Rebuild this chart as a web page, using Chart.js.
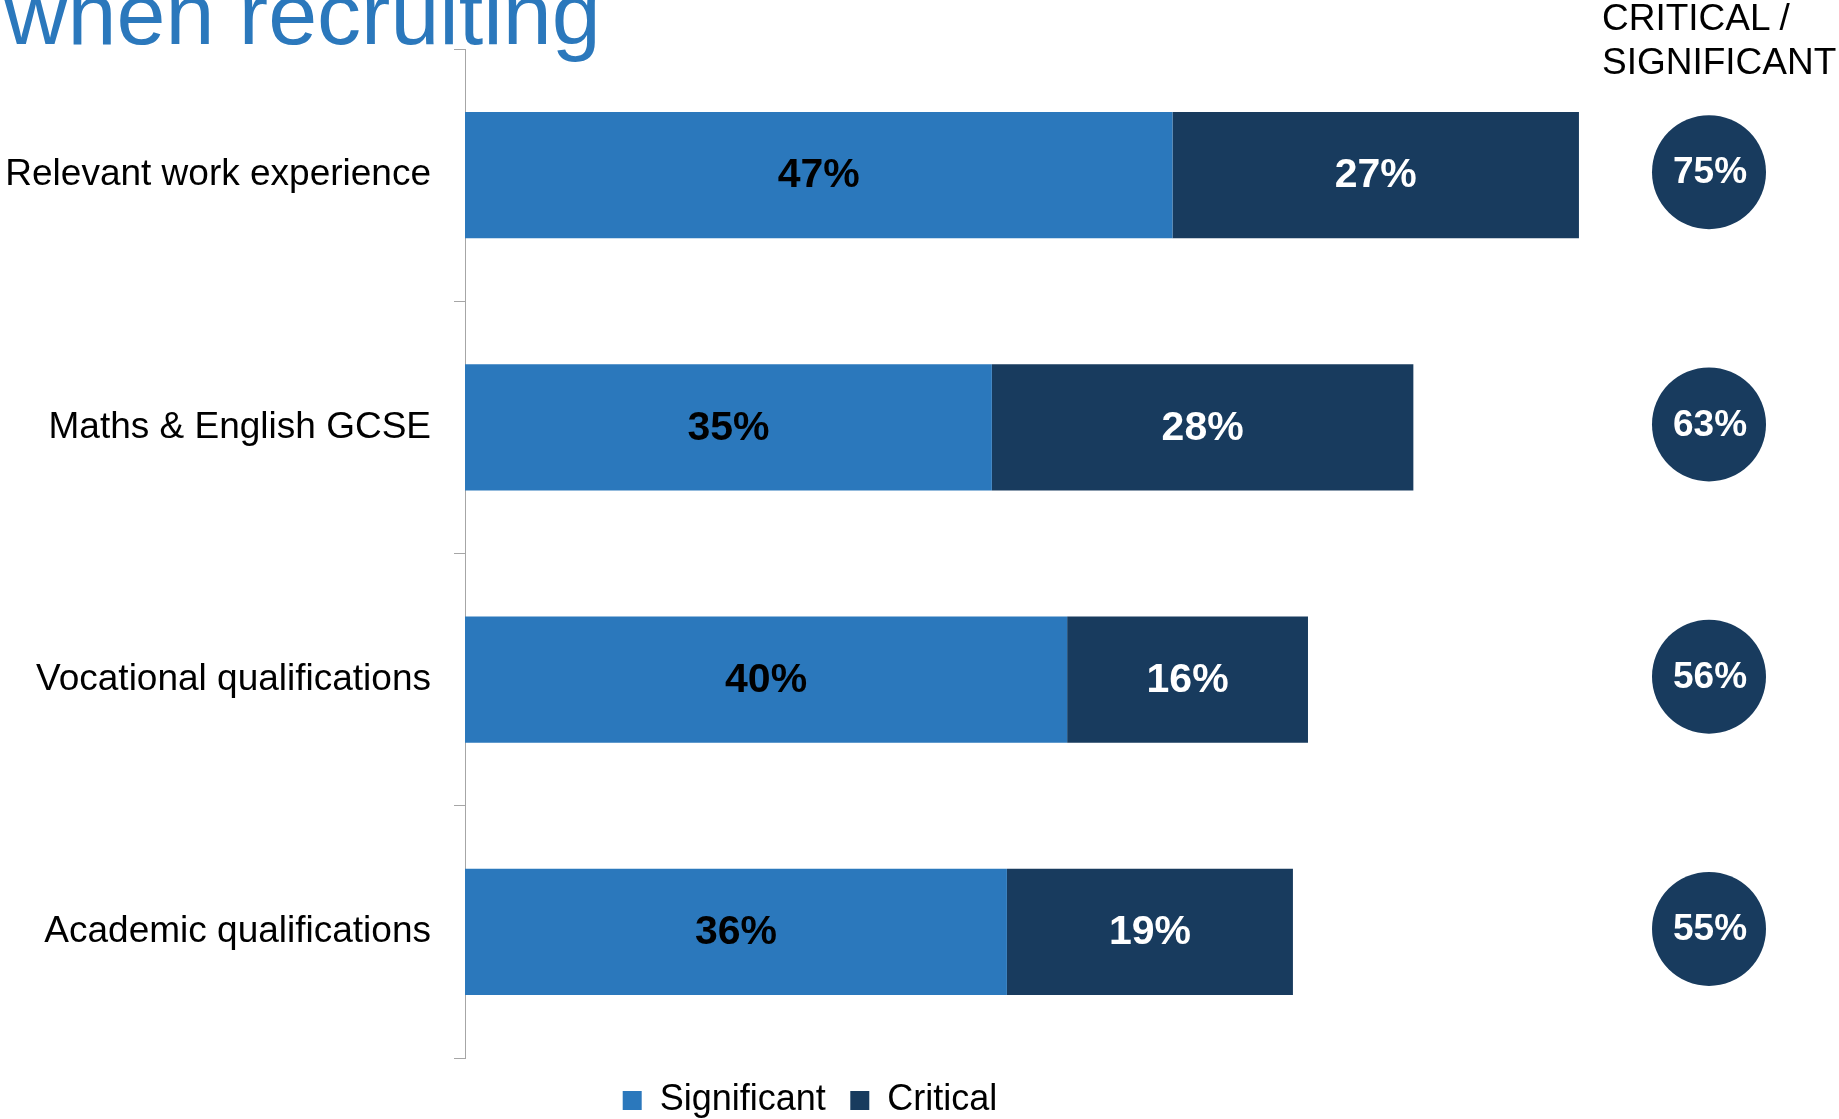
<!DOCTYPE html>
<html lang="en">
<head>
<meta charset="utf-8">
<title>when recruiting</title>
<script src="https://cdn.jsdelivr.net/npm/chart.js@4.4.1/dist/chart.umd.min.js"></script>
<style>
  html, body {
    margin: 0;
    padding: 0;
    background: #ffffff;
    overflow: hidden;
    font-family: "Liberation Sans", Arial, sans-serif;
  }
  #page {
    position: relative;
    width: 1839px;
    height: 1119px;
  }
  #chartBox {
    position: absolute;
    left: 0;
    top: 0;
    width: 1839px;
    height: 1119px;
  }
  .title {
    position: absolute;
    left: 4px;
    top: -30px;
    font-size: 88px;
    line-height: 88px;
    color: #2B78BC;
    white-space: nowrap;
  }
  .totalsHead {
    position: absolute;
    left: 1602px;
    top: -4px;
    font-size: 37px;
    line-height: 44px;
    color: #000;
    white-space: nowrap;
  }
</style>
</head>
<body>
<div id="page">
  <div id="chartBox"><canvas id="chart"></canvas></div>
  <div class="title">when recruiting</div>
  <div class="totalsHead">CRITICAL /<br>SIGNIFICANT</div>
</div>

<script>
// 各项资质的重要程度（百分比）
const categories = [
  'Relevant work experience',
  'Maths & English GCSE',
  'Vocational qualifications',
  'Academic qualifications'
];
const significant = [47, 35, 40, 36];
const critical = [27, 28, 16, 19];
// 右侧圆圈里的合计值
const combined = [75, 63, 56, 55];

const LIGHT = '#2B78BC';
const DARK = '#183B5E';
const AXIS_GREY = '#A6A6A6';
const FONT = '"Liberation Sans", Arial, sans-serif';

// 在每段柱子中间写上数值
const barLabels = {
  id: 'barLabels',
  afterDatasetsDraw(chart) {
    const ctx = chart.ctx;
    ctx.save();
    ctx.font = `bold 41px ${FONT}`;
    ctx.textAlign = 'center';
    ctx.textBaseline = 'middle';
    chart.data.datasets.forEach((ds, di) => {
      const meta = chart.getDatasetMeta(di);
      ctx.fillStyle = di === 0 ? '#000000' : '#ffffff';
      meta.data.forEach((bar, i) => {
        const cx = (bar.x + bar.base) / 2;
        ctx.fillText(`${ds.data[i]}%`, cx, bar.y + 1);
      });
    });
    ctx.restore();
  }
};

// 右侧的合计圆圈
const totalCircles = {
  id: 'totalCircles',
  afterDraw(chart) {
    const ctx = chart.ctx;
    const yScale = chart.scales.y;
    const cx = chart.chartArea.right + 115;
    ctx.save();
    combined.forEach((v, i) => {
      const cy = yScale.getPixelForValue(i) - 3;
      ctx.beginPath();
      ctx.arc(cx, cy, 57, 0, Math.PI * 2);
      ctx.fillStyle = DARK;
      ctx.fill();
      ctx.font = `bold 37px ${FONT}`;
      ctx.textAlign = 'center';
      ctx.textBaseline = 'middle';
      ctx.fillStyle = '#ffffff';
      ctx.fillText(`${v}%`, cx + 1, cy + 1);
    });
    ctx.restore();
  }
};

// 图例稍微往右挪一点
const legendShift = {
  id: 'legendShift',
  afterLayout(chart) {
    if (chart.legend) {
      chart.legend.left = 26;
    }
  }
};

const ctx = document.getElementById('chart').getContext('2d');

new Chart(ctx, {
  type: 'bar',
  data: {
    labels: categories,
    datasets: [
      {
        label: 'Significant',
        data: significant,
        backgroundColor: LIGHT,
        borderWidth: 0,
        categoryPercentage: 0.5,
        barPercentage: 1
      },
      {
        label: 'Critical',
        data: critical,
        backgroundColor: DARK,
        borderWidth: 0,
        categoryPercentage: 0.5,
        barPercentage: 1
      }
    ]
  },
  options: {
    indexAxis: 'y',
    responsive: true,
    maintainAspectRatio: false,
    animation: false,
    layout: {
      padding: { left: 0, right: 245, top: 49, bottom: 0 }
    },
    plugins: {
      legend: {
        display: true,
        position: 'bottom',
        maxHeight: 61,
        labels: {
          boxWidth: 19,
          boxHeight: 19,
          padding: 24.5,
          color: '#000000',
          font: { family: FONT, size: 36 }
        }
      },
      tooltip: { enabled: false },
      title: { display: false }
    },
    scales: {
      x: {
        stacked: true,
        display: false,
        min: 0,
        max: 75
      },
      y: {
        stacked: true,
        afterFit(scale) {
          scale.width = 465;
        },
        grid: {
          drawOnChartArea: false,
          drawTicks: true,
          tickLength: 11,
          color: AXIS_GREY,
          lineWidth: 1
        },
        border: {
          display: true,
          color: AXIS_GREY,
          width: 1
        },
        ticks: {
          color: '#000000',
          padding: 23,
          font: { family: FONT, size: 37 }
        }
      }
    }
  },
  plugins: [barLabels, totalCircles, legendShift]
});
</script>
</body>
</html>
